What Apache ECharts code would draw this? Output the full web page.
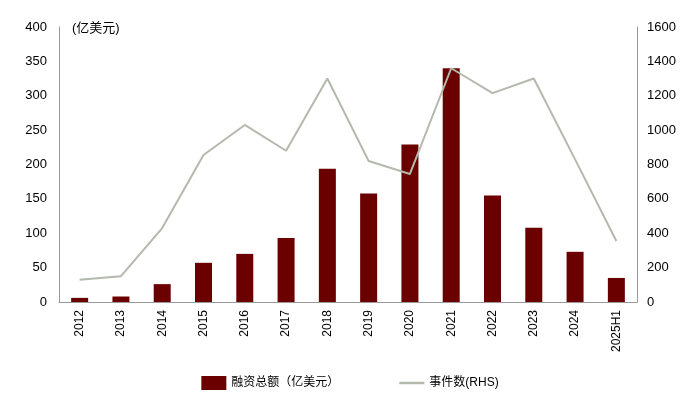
<!DOCTYPE html>
<html><head><meta charset="utf-8">
<script src="https://cdn.jsdelivr.net/npm/echarts@6/dist/echarts.min.js"></script>
<style>body{margin:0}#c{width:700px;height:407px}</style></head>
<body><div id="c"></div>
<script>
var years = ['2012','2013','2014','2015','2016','2017','2018','2019','2020','2021','2022','2023','2024','2025H1'];
var funding = [6, 8, 26, 57, 70, 93, 194, 158, 229, 340, 155, 108, 73, 35];
var deals = [130, 150, 430, 855, 1030, 880, 1300, 820, 745, 1360, 1215, 1300, 830, 355];

var chart = echarts.init(document.getElementById('c'));
var font = 'Arial, "Liberation Sans", "Noto Sans CJK SC", sans-serif';
chart.setOption({
    textStyle: {fontFamily: font},
    animation: false,
    grid: {left: 59, right: 63, top: 27, bottom: 105},
    legend: {
        bottom: 12, left: 'center', itemGap: 60,
        textStyle: {fontSize: 12, color: '#000', fontFamily: font},
        data: [
            {name: '融资总额（亿美元）', icon: 'rect', itemWidth: 44, itemHeight: 7},
            {name: '事件数(RHS)', icon: 'path://M0,0H10V1H0Z', itemWidth: 44, itemHeight: 2}
        ]
    },
    graphic: [{type: 'text', left: 72, top: 22, style: {text: '(亿美元)', fontSize: 13, fill: '#000', fontFamily: font}}],
    xAxis: {
        type: 'category', data: years,
        axisLine: {lineStyle: {color: '#999'}},
        axisTick: {show: false},
        axisLabel: {rotate: 90, color: '#000', fontSize: 12, interval: 0}
    },
    yAxis: [
        {type: 'value', min: 0, max: 400, interval: 50, splitLine: {show: false},
         axisLine: {show: true, lineStyle: {color: '#999'}},
         axisLabel: {color: '#000', fontSize: 13, margin: 12}},
        {type: 'value', min: 0, max: 1600, interval: 200, splitLine: {show: false},
         axisLine: {show: true, lineStyle: {color: '#999'}},
         axisLabel: {color: '#000', fontSize: 13, margin: 10, formatter: function (v) { return String(v); }}}
    ],
    series: [
        {name: '融资总额（亿美元）', type: 'bar', data: funding, barWidth: 17,
         itemStyle: {color: '#6b0000'}},
        {name: '事件数(RHS)', type: 'line', yAxisIndex: 1, data: deals, symbol: 'none',
         lineStyle: {color: '#b4b9ad', width: 2}, itemStyle: {color: '#b4b9ad'}}
    ]
});
</script></body></html>
